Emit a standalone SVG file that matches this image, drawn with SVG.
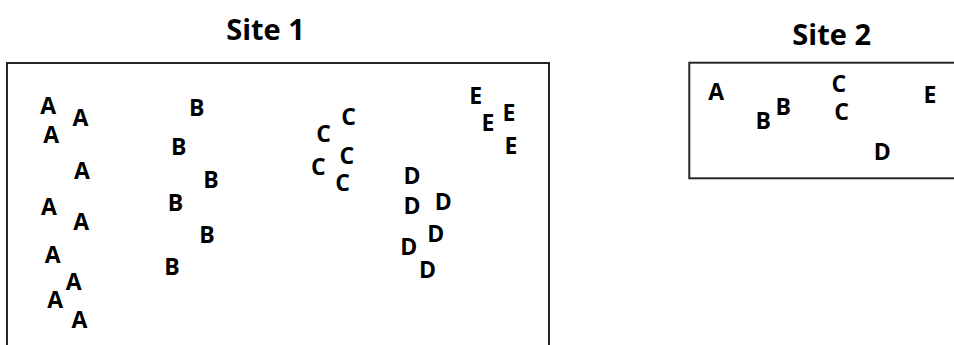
<svg xmlns="http://www.w3.org/2000/svg" width="954" height="345" viewBox="0 0 954 345">
  <style>
    .title { font-family: "Open Sans", "Liberation Sans", sans-serif; font-weight: bold; font-size: 29px; fill: #000; text-anchor: middle; }
    .lbl { font-family: "Open Sans", "Liberation Sans", sans-serif; font-weight: bold; font-size: 23px; fill: #000; text-anchor: middle; }
    .site { fill: #fff; stroke: #262626; stroke-width: 2; }
  </style>
  <rect width="954" height="345" fill="#fff"/>

  <!-- Site 1 -->
  <g id="site1">
    <text class="title" x="265.5" y="40">Site 1</text>
    <rect class="site" x="7" y="63" width="542" height="300"/>
    <g id="site1-a">
      <text class="lbl" x="48.3" y="114.3">A</text>
      <text class="lbl" x="80.5" y="126">A</text>
      <text class="lbl" x="51.3" y="142.7">A</text>
      <text class="lbl" x="82" y="179">A</text>
      <text class="lbl" x="49" y="215">A</text>
      <text class="lbl" x="81.3" y="230">A</text>
      <text class="lbl" x="52.7" y="263.3">A</text>
      <text class="lbl" x="73.7" y="290">A</text>
      <text class="lbl" x="55.3" y="308.3">A</text>
      <text class="lbl" x="79.5" y="328.3">A</text>
    </g>
    <g id="site1-b">
      <text class="lbl" x="196.7" y="115.7">B</text>
      <text class="lbl" x="178.8" y="155">B</text>
      <text class="lbl" x="211" y="188.3">B</text>
      <text class="lbl" x="175.5" y="210.7">B</text>
      <text class="lbl" x="207" y="242.7">B</text>
      <text class="lbl" x="172" y="275">B</text>
    </g>
    <g id="site1-c">
      <text class="lbl" x="348.5" y="125">C</text>
      <text class="lbl" x="323.5" y="142.3">C</text>
      <text class="lbl" x="346.8" y="163.5">C</text>
      <text class="lbl" x="318.3" y="175">C</text>
      <text class="lbl" x="342.5" y="190.5">C</text>
    </g>
    <g id="site1-d">
      <text class="lbl" x="412" y="184">D</text>
      <text class="lbl" x="412" y="214">D</text>
      <text class="lbl" x="443.3" y="210">D</text>
      <text class="lbl" x="435.8" y="241.7">D</text>
      <text class="lbl" x="408.7" y="255">D</text>
      <text class="lbl" x="427.5" y="278.3">D</text>
    </g>
    <g id="site1-e">
      <text class="lbl" x="475.8" y="104">E</text>
      <text class="lbl" x="509" y="120.7">E</text>
      <text class="lbl" x="488" y="130.7">E</text>
      <text class="lbl" x="511" y="154">E</text>
    </g>
  </g>

  <!-- Site 2 -->
  <g id="site2">
    <text class="title" x="831.7" y="45">Site 2</text>
    <rect class="site" x="689.3" y="62.7" width="300" height="115.6"/>
    <text class="lbl" x="716.3" y="100">A</text>
    <text class="lbl" x="763.3" y="129.3">B</text>
    <text class="lbl" x="783.3" y="115">B</text>
    <text class="lbl" x="838.8" y="91.7">C</text>
    <text class="lbl" x="841.7" y="120">C</text>
    <text class="lbl" x="882.3" y="160">D</text>
    <text class="lbl" x="930" y="102.7">E</text>
  </g>
</svg>
